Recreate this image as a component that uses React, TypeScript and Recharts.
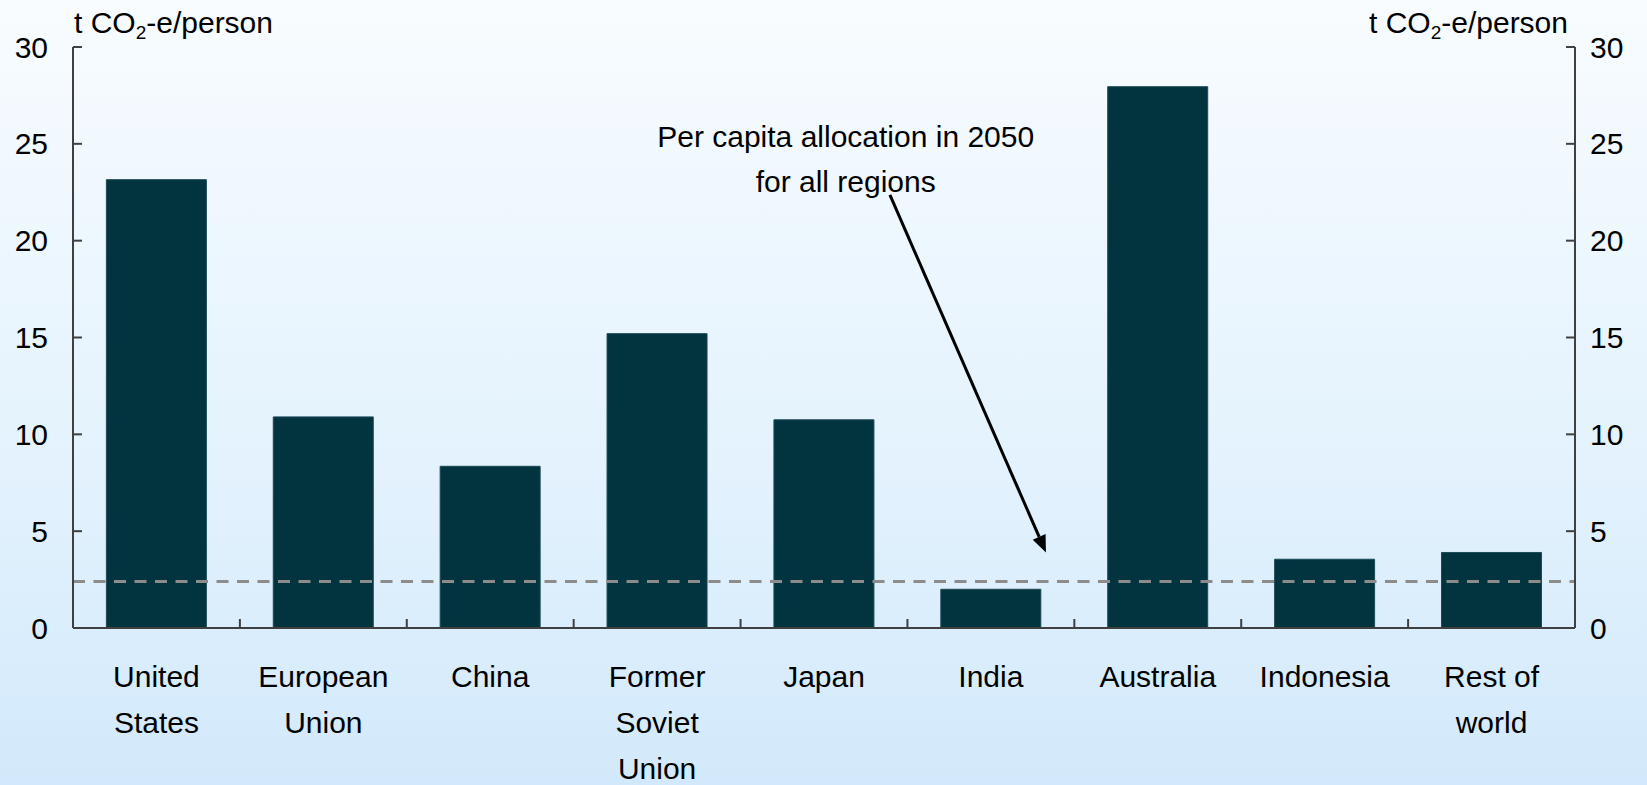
import React from "react";
import { ComposedChart, Bar, Line, XAxis, YAxis, ReferenceLine, Customized } from "recharts";

document.body.style.margin = "0";

const categories = [
  "United States",
  "European Union",
  "China",
  "Former Soviet Union",
  "Japan",
  "India",
  "Australia",
  "Indonesia",
  "Rest of world",
];
const tickLabels = [
  ["United", "States"],
  ["European", "Union"],
  ["China"],
  ["Former", "Soviet", "Union"],
  ["Japan"],
  ["India"],
  ["Australia"],
  ["Indonesia"],
  ["Rest of", "world"],
];
const emissions = [23.15, 10.9, 8.35, 15.2, 10.75, 2.0, 27.95, 3.55, 3.9];
const allocation2050 = 2.4;
const yTicks = [0, 5, 10, 15, 20, 25, 30];
const noteLines = ["Per capita allocation in 2050", "for all regions"];

const data = categories.map((name, i) => ({ name, value: emissions[i] }));

const W = 1647;
const H = 785;
const PLOT_LEFT = 73;
const PLOT_RIGHT = 1575;
const PLOT_TOP = 47;
const PLOT_BOTTOM = 628;
const AXIS_W = 60;
const X_AXIS_H = 30;
const Y_MAX = 30;
const BAND = (PLOT_RIGHT - PLOT_LEFT) / categories.length;
const FONT = '"Liberation Sans", Arial, sans-serif';
const AXIS_COLOR = "#404040";

const px = (slot: number) => PLOT_LEFT + slot * BAND;
const py = (v: number) => PLOT_TOP + (1 - v / Y_MAX) * (PLOT_BOTTOM - PLOT_TOP);

const LeftTick = (props: any) => {
  const { x, y, payload } = props;
  return (
    <g>
      <line x1={x} x2={x + 9} y1={y} y2={y} stroke={AXIS_COLOR} strokeWidth={2} />
      <text x={x - 25} y={y} textAnchor="end" dominantBaseline="central" fontSize={30} fill="#000" fontFamily={FONT}>
        {payload.value}
      </text>
    </g>
  );
};

const RightTick = (props: any) => {
  const { x, y, payload } = props;
  return (
    <g>
      <line x1={x} x2={x - 9} y1={y} y2={y} stroke={AXIS_COLOR} strokeWidth={2} />
      <text x={x + 15} y={y} textAnchor="start" dominantBaseline="central" fontSize={30} fill="#000" fontFamily={FONT}>
        {payload.value}
      </text>
    </g>
  );
};

const CategoryTick = (props: any) => {
  const { x, y, payload } = props;
  const lines = tickLabels[payload.index] || [String(payload.value)];
  return (
    <g>
      {payload.index > 0 && (
        <line x1={x - BAND / 2} x2={x - BAND / 2} y1={y} y2={y - 9} stroke={AXIS_COLOR} strokeWidth={2} />
      )}
      <text textAnchor="middle" fontSize={30} fill="#000" fontFamily={FONT}>
        {lines.map((l, i) => (
          <tspan key={i} x={x} y={y + 59 + i * 46}>
            {l}
          </tspan>
        ))}
      </text>
    </g>
  );
};

const Annotation = () => {
  // arrow from under the note down to just above the dashed line
  const x1 = px(4.895);
  const y1 = py(22.36);
  const x2 = px(5.83);
  const y2 = py(3.9);
  const dx = x2 - x1;
  const dy = y2 - y1;
  const len = Math.sqrt(dx * dx + dy * dy);
  const ux = dx / len;
  const uy = dy / len;
  const headL = 17;
  const headW = 7;
  const bx = x2 - ux * headL;
  const by = y2 - uy * headL;
  const head = `${x2},${y2} ${bx - uy * headW},${by + ux * headW} ${bx + uy * headW},${by - ux * headW}`;
  return (
    <g fontFamily={FONT} fill="#000">
      <text textAnchor="middle" fontSize={30}>
        <tspan x={px(4.63)} y={py(24.85)}>{noteLines[0]}</tspan>
        <tspan x={px(4.63)} y={py(22.5)}>{noteLines[1]}</tspan>
      </text>
      <line x1={x1} y1={y1} x2={bx} y2={by} stroke="#000" strokeWidth={3} />
      <polygon points={head} fill="#000" />
      <text x={PLOT_LEFT + 1} y={33} fontSize={30}>
        t CO<tspan dy={6} fontSize={19}>2</tspan>
        <tspan dy={-6}>-e/person</tspan>
      </text>
      <text x={PLOT_RIGHT - 7} y={33} fontSize={30} textAnchor="end">
        t CO<tspan dy={6} fontSize={19}>2</tspan>
        <tspan dy={-6}>-e/person</tspan>
      </text>
    </g>
  );
};

export default function App() {
  return (
    <div
      style={{
        width: W,
        height: H,
        background: "linear-gradient(to bottom, #f8fcff 0%, #e3f2fd 60%, #d2e9fb 100%)",
        fontFamily: FONT,
      }}
    >
      <ComposedChart
        width={W}
        height={H}
        data={data}
        barCategoryGap="20%"
        margin={{
          top: PLOT_TOP,
          bottom: H - PLOT_BOTTOM - X_AXIS_H,
          left: PLOT_LEFT - AXIS_W,
          right: W - PLOT_RIGHT - AXIS_W,
        }}
      >
        <XAxis
          dataKey="name"
          height={X_AXIS_H}
          interval={0}
          tickSize={0}
          tickMargin={0}
          tickLine={false}
          axisLine={{ stroke: AXIS_COLOR, strokeWidth: 2 }}
          tick={<CategoryTick />}
        />
        <YAxis
          yAxisId="left"
          orientation="left"
          width={AXIS_W}
          domain={[0, Y_MAX]}
          ticks={yTicks}
          tickSize={0}
          tickMargin={0}
          tickLine={false}
          axisLine={{ stroke: AXIS_COLOR, strokeWidth: 2 }}
          tick={<LeftTick />}
        />
        <YAxis
          yAxisId="right"
          orientation="right"
          width={AXIS_W}
          domain={[0, Y_MAX]}
          ticks={yTicks}
          tickSize={0}
          tickMargin={0}
          tickLine={false}
          axisLine={{ stroke: AXIS_COLOR, strokeWidth: 2 }}
          tick={<RightTick />}
        />
        <Bar
          yAxisId="left"
          dataKey="value"
          fill="#023440"
          stroke="#1d4a55"
          strokeWidth={1}
          isAnimationActive={false}
        />
        {/* invisible series so the right axis gets its ticks */}
        <Line
          yAxisId="right"
          dataKey="value"
          stroke="none"
          dot={false}
          activeDot={false}
          legendType="none"
          isAnimationActive={false}
        />
        <ReferenceLine
          yAxisId="left"
          y={allocation2050}
          stroke="#8c8c8c"
          strokeWidth={3}
          strokeDasharray="12 8.5"
        />
        <Customized component={Annotation} />
      </ComposedChart>
    </div>
  );
}
